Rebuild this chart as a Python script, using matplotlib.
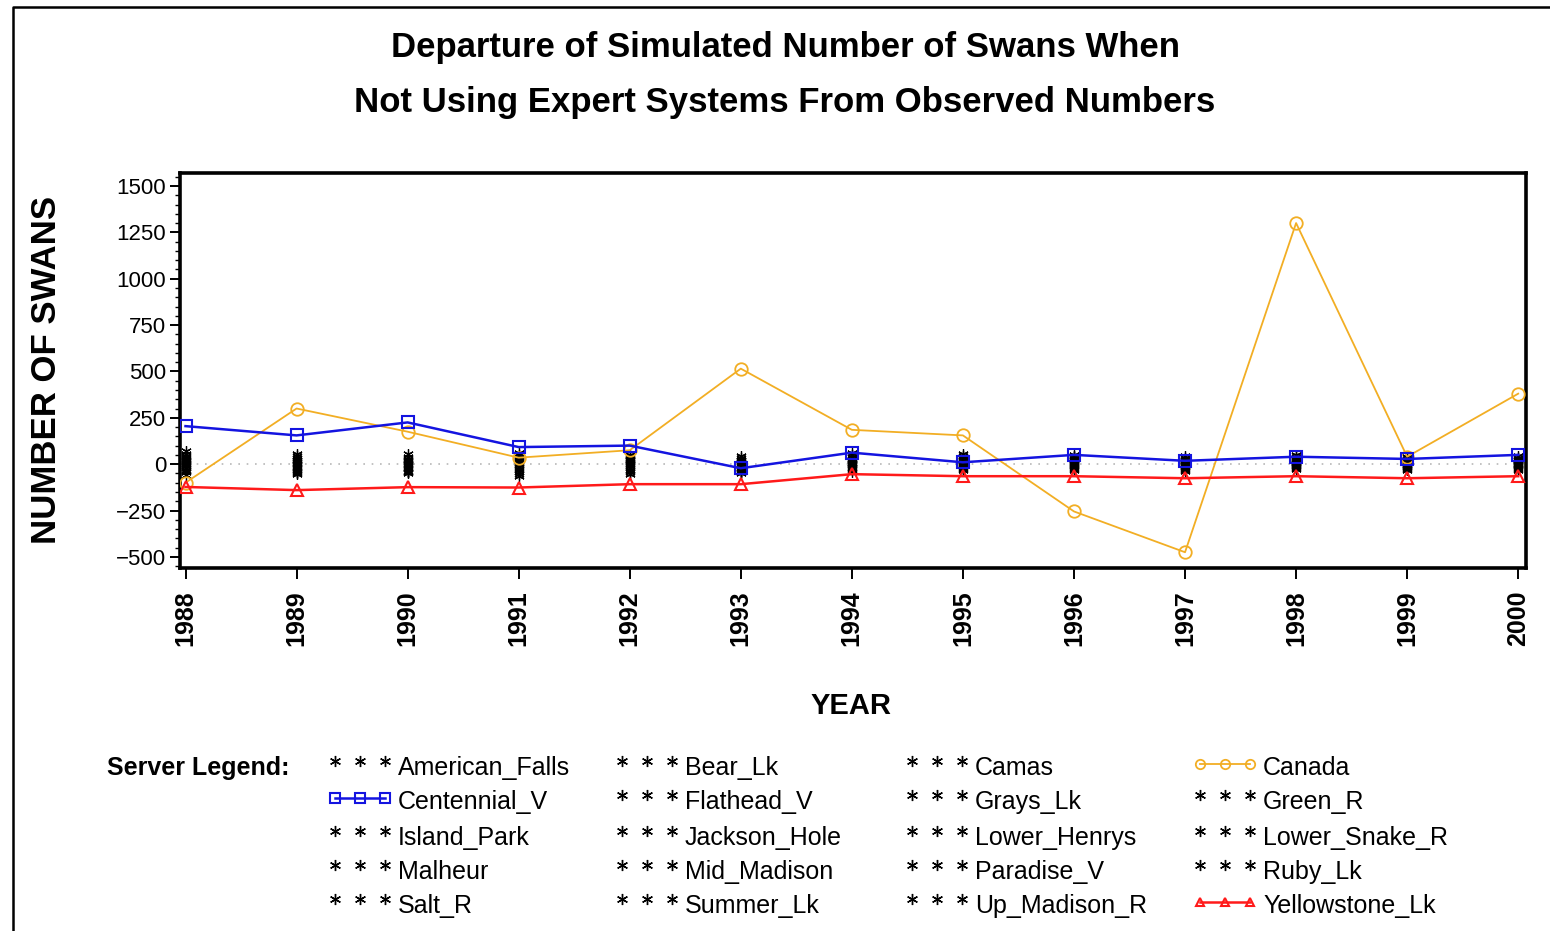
import matplotlib
matplotlib.use("Agg")
import matplotlib.pyplot as plt
from matplotlib.lines import Line2D
from matplotlib.ticker import MultipleLocator

plt.rcParams['font.family'] = ['Liberation Sans', 'DejaVu Sans']

years = [1988, 1989, 1990, 1991, 1992, 1993, 1994, 1995, 1996, 1997, 1998, 1999, 2000]

# departures for the three highlighted sites
canada = [-100, 300, 175, 35, 75, 515, 185, 155, -255, -475, 1300, 40, 380]
centennial_v = [205, 155, 225, 92, 100, -22, 62, 10, 50, 18, 40, 28, 50]
yellowstone_lk = [-123, -140, -124, -126, -108, -108, -54, -65, -65, -76, -65, -76, -65]

# the other sites all sit close to zero
american_falls = [30, 25, 20, 35, 25, 10, 30, 15, 20, 10, 15, 10, 15]
bear_lk = [-20, -15, -10, -25, -10, -20, 5, -5, 0, -10, 5, -5, 0]
camas = [10, 5, 15, 10, 5, 0, 20, 10, 15, 5, 10, 5, 10]
flathead_v = [-45, -50, -40, -55, -45, -40, -30, -20, -25, -30, -20, -25, -20]
grays_lk = [55, 45, 40, 50, 45, 35, 50, 40, 45, 35, 40, 30, 35]
green_r = [0, -5, 0, 5, -5, -10, 10, 0, 5, -5, 0, 0, -5]
island_park = [-60, -55, -50, -65, -55, -50, -40, -30, -30, -35, -25, -30, -25]
jackson_hole = [20, 15, 10, 20, 15, 5, 25, 20, 25, 15, 20, 15, 20]
lower_henrys = [-35, -30, -25, -40, -30, -30, -15, -15, -15, -20, -10, -15, -10]
lower_snake_r = [70, 55, 55, 60, 50, 45, 60, 55, 50, 45, 50, 40, 45]
malheur = [-10, -20, -20, -15, -20, -25, -5, -10, -10, -15, -5, -10, -15]
mid_madison = [40, 35, 30, 25, 35, 20, 40, 30, 30, 25, 30, 20, 25]
paradise_v = [5, 10, 5, 0, 10, 15, 15, 5, 10, 0, 5, 10, 5]
ruby_lk = [-30, -40, -35, -30, -35, -45, -25, -25, -20, -25, -15, -20, -30]
salt_r = [15, 0, -5, -5, 0, -5, 0, -5, -5, -5, -10, -5, 0]
summer_lk = [-5, 20, 25, 15, 20, 25, 5, 25, 35, 25, 25, 25, 30]
up_madison_r = [45, -35, -45, 40, 30, -35, -20, 45, 40, 30, 35, -15, -5]

sites = {
    'American_Falls': american_falls, 'Bear_Lk': bear_lk, 'Camas': camas,
    'Canada': canada, 'Centennial_V': centennial_v, 'Flathead_V': flathead_v,
    'Grays_Lk': grays_lk, 'Green_R': green_r, 'Island_Park': island_park,
    'Jackson_Hole': jackson_hole, 'Lower_Henrys': lower_henrys,
    'Lower_Snake_R': lower_snake_r, 'Malheur': malheur, 'Mid_Madison': mid_madison,
    'Paradise_V': paradise_v, 'Ruby_Lk': ruby_lk, 'Salt_R': salt_r,
    'Summer_Lk': summer_lk, 'Up_Madison_R': up_madison_r,
    'Yellowstone_Lk': yellowstone_lk,
}

ORANGE = '#f2ae24'
BLUE = '#1414e0'
RED = '#ff1a1a'
STAR = (6, 2, 0)

styles = {
    'Canada': dict(color=ORANGE, marker='o', ls='-', lw=1.3, ms=9, mfc='none', mew=1.3),
    'Centennial_V': dict(color=BLUE, marker='s', ls='-', lw=1.8, ms=9, mfc='none', mew=1.5),
    'Yellowstone_Lk': dict(color=RED, marker='^', ls='-', lw=1.8, ms=8, mfc='none', mew=1.5),
}
star_style = dict(color='black', marker=STAR, ls='none', ms=7.5, mew=0.9)

fig = plt.figure(figsize=(15.5, 9.31), dpi=100)
ax = fig.add_axes([0.1161, 0.3899, 0.8684, 0.4243])

ax.axhline(0, color='#b8b8b8', lw=1.2, ls=(0, (1, 4)), zorder=1)

for name, vals in sites.items():
    if name not in styles:
        ax.plot(years, vals, zorder=2, **star_style)
for name in ['Canada', 'Centennial_V', 'Yellowstone_Lk']:
    ax.plot(years, sites[name], zorder=3, **styles[name])

ax.set_xlim(1987.95, 2000.07)
ax.set_ylim(-560, 1570)
ax.set_xticks(years)
ax.set_xticklabels([str(y) for y in years], rotation=90, fontsize=18, fontweight='bold')
ax.set_yticks(range(-500, 1501, 250))
ax.yaxis.set_minor_locator(MultipleLocator(50))
ax.tick_params(axis='y', which='major', direction='out', length=7, width=1.4, labelsize=16, pad=3)
ax.tick_params(axis='y', which='minor', direction='out', length=3.5, width=1.0)
ax.tick_params(axis='x', which='major', direction='out', length=8, width=1.4, pad=8)
for sp in ax.spines.values():
    sp.set_linewidth(2.6)

fig.text(0.5065, 0.9495, 'Departure of Simulated Number of Swans When',
         ha='center', va='center', fontsize=25, fontweight='bold')
fig.text(0.5065, 0.8894, 'Not Using Expert Systems From Observed Numbers',
         ha='center', va='center', fontsize=25, fontweight='bold')
fig.text(0.0303, 0.6026, 'NUMBER OF SWANS', rotation=90, ha='center', va='center',
         fontsize=25, fontweight='bold')
fig.text(0.549, 0.2417, 'YEAR', ha='center', va='center', fontsize=21, fontweight='bold')

# legend laid out by hand, 4 columns filled row by row
W, H = 1550.0, 931.0
fig.text(107 / W, 1 - 768 / H, 'Server Legend:', ha='left', va='center',
         fontsize=18, fontweight='bold')
col_x = [335, 622, 912, 1200]
row_y = [768, 802, 838, 872, 906]
for i, name in enumerate(sites):
    r, c = divmod(i, 4)
    x0 = col_x[c] / W
    x1 = (col_x[c] + 50) / W
    y = 1 - row_y[r] / H
    xs = [x0, (x0 + x1) / 2, x1]
    if name in styles:
        st = dict(styles[name])
        st['ms'] = st['ms'] * 0.75
        ln = Line2D(xs, [y + 0.004] * 3, transform=fig.transFigure, **st)
    else:
        ln = Line2D(xs, [y + 0.007] * 3, transform=fig.transFigure,
                    color='black', marker=STAR, ls='none', ms=8, mew=1.0)
    fig.add_artist(ln)
    fig.text((col_x[c] + 63) / W, y, name, ha='left', va='center', fontsize=18)

# page frame: left and top edges
fig.add_artist(Line2D([13 / W, 13 / W, 1.0], [0.0, 1 - 7 / H, 1 - 7 / H],
                      transform=fig.transFigure, color='black', lw=1.8))

fig.savefig('out.png', dpi=100)
